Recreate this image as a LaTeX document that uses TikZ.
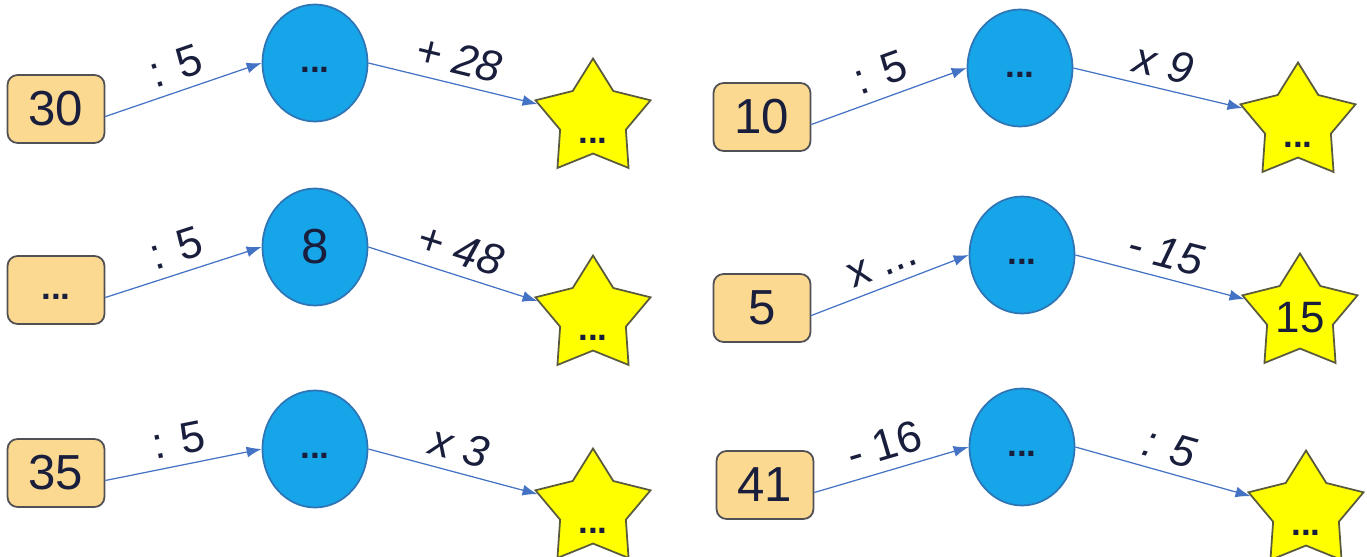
\documentclass[tikz,border=0pt]{standalone}
\usepackage{fontspec}
\setmainfont{Liberation Sans}
\usetikzlibrary{shapes.geometric,arrows.meta}
\definecolor{boxfill}{RGB}{252,217,145}
\definecolor{boxline}{RGB}{80,80,85}
\definecolor{blobfill}{RGB}{22,165,232}
\definecolor{blobline}{RGB}{46,117,182}
\definecolor{goalfill}{RGB}{255,255,0}
\definecolor{goalline}{RGB}{90,90,60}
\definecolor{linkcol}{RGB}{68,114,196}
\definecolor{inktext}{RGB}{25,30,60}
\begin{document}
\begin{tikzpicture}[x=0.02cm, y=-0.02cm,
    numbox/.style={draw=boxline, fill=boxfill, rounded corners=0.2cm, line width=1pt,
        minimum width=1.94cm, minimum height=1.36cm, text=inktext,
        font=\fontsize{28}{32}\selectfont},
    blob/.style={ellipse, draw=blobline, fill=blobfill, line width=1pt, inner sep=0pt,
        minimum width=2.1cm, minimum height=2.34cm, text=inktext},
    goal/.style={star, star points=5, star point ratio=1.75, draw=goalline, fill=goalfill,
        line width=1pt, minimum size=2.42cm, inner sep=0pt},
    dots/.style={text=inktext, font=\fontsize{20}{24}\selectfont\bfseries,
        text height=0.4cm, text depth=0pt},
    big/.style={text=inktext, font=\fontsize{28}{32}\selectfont},
    op/.style={above=2pt, sloped, midway, text=inktext, font=\fontsize{25}{30}\selectfont},
    opi/.style={op, font=\fontsize{25}{30}\selectfont\itshape},
    link/.style={draw=linkcol, line width=0.7pt, -{Latex[length=3mm,width=2.2mm]}}]
    \useasboundingbox (0,0) rectangle (1367,557);

    % left column
    \node[numbox] (b1) at (56,109) {30};
    \node[blob, dots] (c1) at (315,63) {...};
    \node[goal, label={[dots, yshift=-0.3cm]center:...}] (s1) at (593,119) {};

    \node[numbox, dots] (b2) at (56,290) {...};
    \node[blob, big] (c2) at (315,247) {8};
    \node[goal, label={[dots, yshift=-0.3cm]center:...}] (s2) at (593,316) {};

    \node[numbox] (b3) at (56,473) {35};
    \node[blob, dots] (c3) at (315,449) {...};
    \node[goal, label={[dots, yshift=-0.3cm]center:...}] (s3) at (593,509) {};

    % right column
    \node[numbox] (b4) at (762,117) {10};
    \node[blob, dots] (c4) at (1020,68) {...};
    \node[goal, label={[dots, yshift=-0.3cm]center:...}] (s4) at (1298,123) {};

    \node[numbox] (b5) at (762,308) {5};
    \node[blob, dots] (c5) at (1022,255) {...};
    \node[goal, label={[big, font=\fontsize{25}{30}\selectfont, yshift=-0.08cm]center:15}] (s5) at (1300,314) {};

    \node[numbox] (b6) at (765,485) {41};
    \node[blob, dots] (c6) at (1022,447) {...};
    \node[goal, label={[dots, yshift=-0.3cm]center:...}] (s6) at (1306,511) {};

    % arrows
    \draw[link] ([yshift=-0.15cm]b1.east) -- (c1.west) node[op] {: 5};
    \draw[link] (c1.east) -- (s1.165) node[opi] {+ 28};
    \draw[link] ([yshift=-0.15cm]b2.east) -- (c2.west) node[op] {: 5};
    \draw[link] (c2.east) -- (s2.165) node[opi] {+ 48};
    \draw[link] ([yshift=-0.15cm]b3.east) -- (c3.west) node[op] {: 5};
    \draw[link] (c3.east) -- (s3.165) node[opi] {x 3};

    \draw[link] ([yshift=-0.15cm]b4.east) -- (c4.west) node[op] {: 5};
    \draw[link] (c4.east) -- (s4.165) node[opi] {x 9};
    \draw[link] ([yshift=-0.15cm]b5.east) -- (c5.west) node[op] {x ...};
    \draw[link] (c5.east) -- (s5.165) node[opi] {- 15};
    \draw[link] ([yshift=-0.15cm]b6.east) -- (c6.west) node[op] {- 16};
    \draw[link] (c6.east) -- (s6.165) node[opi] {: 5};
\end{tikzpicture}
\end{document}
